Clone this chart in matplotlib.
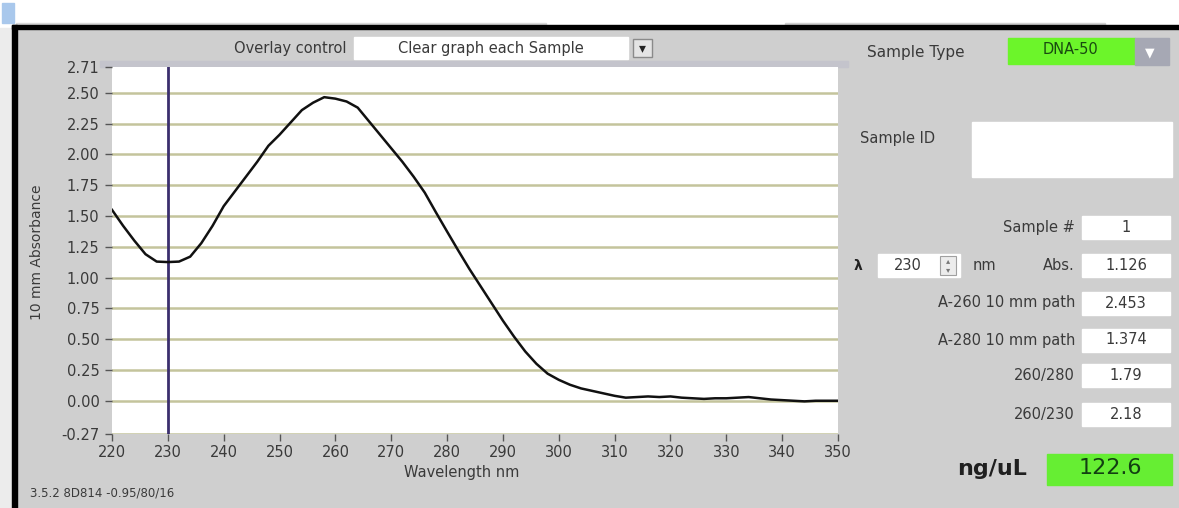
import matplotlib
matplotlib.use('Agg')
import matplotlib.pyplot as plt
from matplotlib.patches import Rectangle

plt.rcParams['font.family'] = ['DejaVu Sans']

# spectrum
wavelength = [220, 222, 224, 226, 228, 230, 232, 234, 236, 238, 240, 242, 244, 246, 248,
              250, 252, 254, 256, 258, 260, 262, 264, 266, 268, 270, 272, 274, 276, 278,
              280, 282, 284, 286, 288, 290, 292, 294, 296, 298, 300, 302, 304, 306, 308,
              310, 312, 314, 316, 318, 320, 322, 324, 326, 328, 330, 332, 334, 336, 338,
              340, 342, 344, 346, 348, 350]
absorbance = [1.55, 1.42, 1.30, 1.19, 1.13, 1.126, 1.13, 1.17, 1.28, 1.42, 1.58, 1.70, 1.82, 1.94, 2.07,
              2.16, 2.26, 2.36, 2.42, 2.465, 2.453, 2.43, 2.38, 2.27, 2.16, 2.05, 1.94, 1.82, 1.69, 1.53,
              1.374, 1.22, 1.07, 0.93, 0.79, 0.65, 0.52, 0.40, 0.30, 0.22, 0.17, 0.13, 0.10, 0.08, 0.06,
              0.04, 0.025, 0.03, 0.035, 0.03, 0.035, 0.025, 0.02, 0.015, 0.02, 0.02, 0.025, 0.03, 0.02, 0.01,
              0.005, 0.0, -0.005, 0.0, 0.0, 0.0]
cursor_wl = 230
xticks = [220, 230, 240, 250, 260, 270, 280, 290, 300, 310, 320, 330, 340, 350]
yticks = [-0.27, 0.0, 0.25, 0.50, 0.75, 1.00, 1.25, 1.50, 1.75, 2.00, 2.25, 2.50, 2.71]

field_labels = ['Sample #', 'Abs.', 'A-260 10 mm path', 'A-280 10 mm path', '260/280', '260/230']
field_values = ['1', '1.126', '2.453', '1.374', '1.79', '2.18']
sample_type = 'DNA-50'
lambda_nm = '230'
conc = '122.6'

W, H = 1179, 508
fig = plt.figure(figsize=(W / 100, H / 100), dpi=100, facecolor='white')

# background "window" drawn in pixel coords
bg = fig.add_axes([0, 0, 1, 1], zorder=0)
bg.set_xlim(0, W)
bg.set_ylim(H, 0)
bg.axis('off')

grey = '#cfcfcf'
txt = '#3a3a3a'
bg.add_patch(Rectangle((0, 28), 14, H, color='#ececec'))
bg.add_patch(Rectangle((14, 28), W, H, color=grey))
bg.add_patch(Rectangle((2, 3), 12, 20, color='#a9c8ec'))
bg.add_patch(Rectangle((16, 23), 530, 1.5, color='#d8d8d8'))
bg.add_patch(Rectangle((785, 23), 320, 1.5, color='#d0d0d0'))
bg.add_patch(Rectangle((12, 25), W, 4, color='black'))
bg.add_patch(Rectangle((12, 25), 4.5, H, color='black'))
bg.add_patch(Rectangle((100, 61), 748, 6, color='#c4c4cc'))

# overlay control
bg.text(347, 48, 'Overlay control', ha='right', va='center', fontsize=10.5, color=txt)
bg.add_patch(Rectangle((354, 37), 274, 22, color='white'))
bg.text(491, 48, 'Clear graph each Sample', ha='center', va='center', fontsize=10.5, color=txt)
bg.add_patch(Rectangle((633, 39), 19, 18, facecolor='#e4e4e4', edgecolor='#8a8a8a', lw=1))
bg.text(642.5, 48.5, '\u25be', ha='center', va='center', fontsize=10, color='#222222')

# sample type
bg.text(867, 52, 'Sample Type', ha='left', va='center', fontsize=11, color=txt)
bg.add_patch(Rectangle((1008, 38), 127, 26, color='#6cf52a'))
bg.text(1071, 50, sample_type, ha='center', va='center', fontsize=10.5, color='#184a10')
bg.add_patch(Rectangle((1135, 38), 34, 27, color='#a6a8b4'))
bg.text(1150, 53, '\u25bc', ha='center', va='center', fontsize=9, color='white')

# sample ID
bg.text(860, 139, 'Sample ID', ha='left', va='center', fontsize=10.5, color=txt)
bg.add_patch(Rectangle((972, 122), 200, 55, color='white'))

# result fields
row_y = [227.5, 265, 303, 340, 375.5, 414.5]
for lab, val, yy in zip(field_labels, field_values, row_y):
    bg.text(1075, yy, lab, ha='right', va='center', fontsize=10.5, color=txt)
    bg.add_patch(Rectangle((1082, yy - 11.5), 88, 23, color='white'))
    bg.text(1126, yy, val, ha='center', va='center', fontsize=10.5, color=txt)

# wavelength selector
bg.text(858, 266, '\u03bb', ha='center', va='center', fontsize=10, color='#222222', weight='bold')
bg.add_patch(Rectangle((878, 254), 82, 23, color='white'))
bg.text(908, 265, lambda_nm, ha='center', va='center', fontsize=10.5, color=txt)
bg.add_patch(Rectangle((940, 256), 16, 19, facecolor='#ececec', edgecolor='#a0a0a0', lw=0.8))
bg.text(948, 261, '\u25b4', ha='center', va='center', fontsize=6, color='#777777')
bg.text(948, 270, '\u25be', ha='center', va='center', fontsize=6, color='#777777')
bg.text(973, 265, 'nm', ha='left', va='center', fontsize=10.5, color=txt)

# concentration
bg.text(1027, 469, 'ng/uL', ha='right', va='center', fontsize=16, color='#202020', weight='bold')
bg.add_patch(Rectangle((1047, 454), 125, 31, color='#66ee33'))
bg.text(1110, 468, conc, ha='center', va='center', fontsize=16, color='#124012')

bg.text(462, 473, 'Wavelength nm', ha='center', va='center', fontsize=10.5, color=txt)
bg.text(30, 493, '3.5.2 8D814 -0.95/80/16', ha='left', va='center', fontsize=8.5, color=txt)
bg.text(37, 252, '10 mm Absorbance', ha='center', va='center', rotation=90, fontsize=10, color=txt)

# the plot itself
ax = fig.add_axes([112 / W, 1 - 434 / H, 726 / W, 367 / H], zorder=1)
ax.set_facecolor('white')
for lvl in yticks[:-1]:
    ax.axhline(lvl, color='#c4c49c', lw=1.8, zorder=1)
ax.axvline(cursor_wl, color='#3b2f6e', lw=2, zorder=2)
ax.plot(wavelength, absorbance, color='#111111', lw=1.8, zorder=3)
ax.set_xlim(220, 350)
ax.set_ylim(-0.27, 2.71)
ax.set_xticks(xticks)
ax.set_xticklabels([str(t) for t in xticks])
ax.set_yticks(yticks)
ax.set_yticklabels(['%.2f' % t for t in yticks])
ax.tick_params(axis='both', direction='out', length=5, width=1, color='#555555',
               labelsize=10.5, labelcolor=txt)
ax.tick_params(axis='y', pad=4)
ax.tick_params(axis='x', pad=3)
for s in ax.spines.values():
    s.set_visible(False)

fig.savefig('out.png', dpi=100, facecolor=fig.get_facecolor())
